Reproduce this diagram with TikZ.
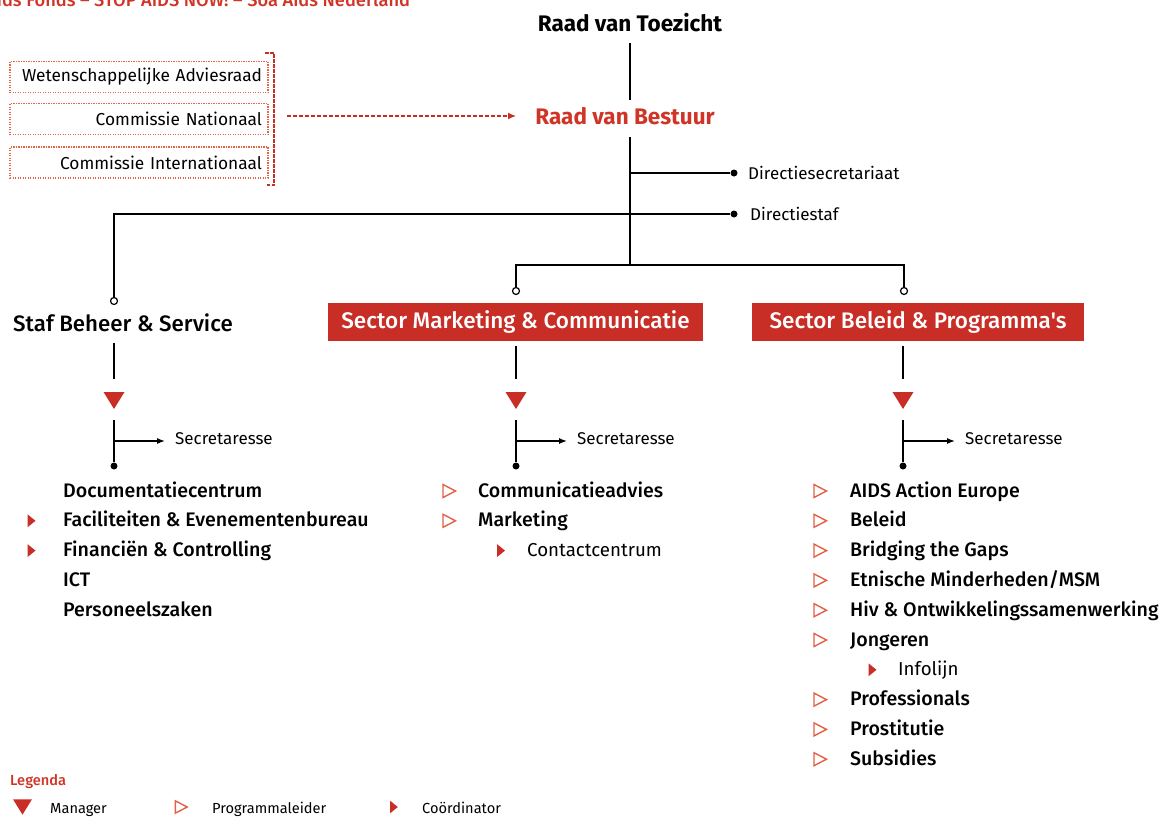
\documentclass[tikz,border=0pt]{standalone}
\usepackage{fontspec}
\setmainfont{Fira Sans}
\newfontfamily\med{Fira Sans Medium}
\usetikzlibrary{arrows.meta}
\definecolor{myred}{RGB}{200,45,38}
\definecolor{txtred}{RGB}{208,52,38}
\definecolor{lightred}{RGB}{226,96,70}
\definecolor{dotred}{RGB}{228,100,70}
\begin{document}
\begin{tikzpicture}[x=1pt,y=-1pt,
  conn/.style={line width=1.5pt, black},
  thin/.style={line width=1.3pt, black},
  item/.style={anchor=base west, inner sep=0, font=\med\fontsize{19.6}{22}\selectfont},
  subitem/.style={anchor=base west, inner sep=0, font=\fontsize{18.7}{22}\selectfont},
  small/.style={anchor=base west, inner sep=0, font=\fontsize{17}{20}\selectfont},
  legtext/.style={anchor=base west, inner sep=0, font=\fontsize{14.6}{16}\selectfont},
  title/.style={inner sep=0, font=\bfseries\fontsize{22.5}{26}\selectfont},
  sectorbox/.style={fill=myred, text=white, minimum height=38, inner sep=0, font=\med\fontsize{22.5}{26}\selectfont},
  opendot/.style={circle, draw, fill=white, line width=1.2pt, inner sep=0, minimum size=7},
  dot/.style={circle, fill=black, inner sep=0, minimum size=7},
  dotbox/.style={draw=dotred, line width=1.3pt, dash pattern=on 1.2pt off 1.3pt, minimum width=258, minimum height=31, text width=246, align=right, inner xsep=6, inner ysep=0, font=\fontsize{17.3}{19}\selectfont},
  pics/mgr/.style={code={\fill[myred] (-10.5,-8.5) -- (10.5,-8.5) -- (0,8.5) -- cycle;}},
  pics/prog/.style={code={\draw[lightred, line width=1.4pt, line join=miter] (-6,-6.5) -- (6.5,0) -- (-6,6.5) -- cycle;}},
  pics/coord/.style={code={\fill[myred] (-4,-6.5) -- (4,0) -- (-4,6.5) -- cycle;}}
]
\useasboundingbox (0,0) rectangle (1168,817);

% header
\node[anchor=base west, inner sep=0, text=txtred, font=\med\fontsize{18.3}{20}\selectfont] (hdr) at (-14,6) {Aids Fonds – STOP AIDS NOW! – Soa Aids Nederland};

% top
\node[title] (toezicht) at (630,23) {Raad van Toezicht};
\node[title, text=txtred] (bestuur) at (625,116) {Raad van Bestuur};
\coordinate (t0) at (630,43);
\coordinate (t1) at (630,100);
\draw[conn] (t0) -- (t1);

% advisory boxes
\node[dotbox] (wa) at (139,77) {Wetenschappelijke Adviesraad};
\node[dotbox] (cn) at (139,119) {Commissie Nationaal};
\node[dotbox] (ci) at (139,162.5) {Commissie Internationaal};
\draw[myred, line width=2pt, dash pattern=on 3.5pt off 1.5pt] (265,53) -- (274,53) -- (274,185) -- (265,185);
\coordinate (brk) at (287,116);
\draw[myred, line width=1.6pt, dash pattern=on 4pt off 2pt, -{Latex[length=8pt,width=7pt]}, shorten >=19pt] (brk) -- (bestuur.west);

% spine
\coordinate (s0) at (630,137);
\coordinate (s1) at (630,265);
\draw[conn] (s0) -- (s1);
\node[dot] (dsec) at (734,173) {};
\node[dot] (dstaf) at (734,214) {};
\node[small, anchor=west] (dsect) at (748,173) {Directiesecretariaat};
\node[small, anchor=west] (dstaft) at (750,214) {Directiestaf};
\draw[conn] (dsec -| s0) -- (dsec);

% sector heads
\node[opendot] (o1) at (114,301) {};
\node[opendot] (o2) at (516,291) {};
\node[opendot] (o3) at (904,291) {};
\draw[conn] (dstaf) -| (o1.north);
\draw[conn] (o2.north) |- (s1) -| (o3.north);

\node[anchor=base west, inner sep=0, font=\med\fontsize{22.3}{25}\selectfont] (staf) at (13,331) {Staf Beheer \& Service};
\node[sectorbox, minimum width=375] (smc) at (515.5,322) {Sector Marketing \& Communicatie};
\node[sectorbox, minimum width=332] (sbp) at (918,322) {Sector Beleid \& Programma's};

% stems
\foreach \n/\x/\top in {a/114/343, b/516/346, c/903/346}{
  \coordinate (\n0) at (\x,\top);
  \coordinate (\n1) at (\x,379);
  \draw[conn] (\n0) -- (\n1);
  \pic at (\x,400.5) {mgr};
  \coordinate (\n2) at (\x,420);
  \coordinate (\n3) at (\x,441);
  \node[dot] (\n4) at (\x,466) {};
  \draw[conn] (\n2) -- (\n4);
}
\node[small, anchor=west] (seca) at (175,439) {Secretaresse};
\node[small, anchor=west] (secb) at (577,439) {Secretaresse};
\node[small, anchor=west] (secc) at (965,439) {Secretaresse};
\draw[thin, -{Latex[length=8pt,width=6pt]}, shorten >=10pt] (a3) -- (a3 -| seca.west);
\draw[thin, -{Latex[length=8pt,width=6pt]}, shorten >=10pt] (b3) -- (b3 -| secb.west);
\draw[thin, -{Latex[length=8pt,width=6pt]}, shorten >=10pt] (c3) -- (c3 -| secc.west);

% left list
\node[item] (l1) at (63,497) {Documentatiecentrum};
\node[item] (l2) at (63,526.8) {Faciliteiten \& Evenementenbureau};
\node[item] (l3) at (63,556.6) {Financiën \& Controlling};
\node[item] (l4) at (63,586.4) {ICT};
\node[item] (l5) at (63,616.2) {Personeelszaken};
\pic at (31.5,520.8) {coord};
\pic at (31.5,550.6) {coord};

% middle list
\node[item] (m1) at (478,497) {Communicatieadvies};
\node[item] (m2) at (478,526.8) {Marketing};
\node[subitem] (m3) at (527,556.6) {Contactcentrum};
\pic at (449,491) {prog};
\pic at (449,520.8) {prog};
\pic at (501,550.6) {coord};

% right list
\foreach \i/\t in {1/{AIDS Action Europe},2/{Beleid},3/{Bridging the Gaps},4/{Etnische Minderheden/MSM},5/{Hiv \& Ontwikkelingssamenwerking},6/{Jongeren},8/{Professionals},9/{Prostitutie},10/{Subsidies}}{
  \node[item] (r\i) at (850,{497+29.8*(\i-1)}) {\t};
  \pic at (820,{491+29.8*(\i-1)}) {prog};
}
\node[subitem] (r7) at (898,675.8) {Infolijn};
\pic at (872.5,669.8) {coord};

% legend
\node[anchor=base west, inner sep=0, text=txtred, font=\med\fontsize{14.6}{16}\selectfont] (leg) at (10,785) {Legenda};
\pic[scale=0.9] at (22.5,807) {mgr};
\node[legtext] (lg1) at (50,813) {Manager};
\pic[scale=0.95] at (181,807) {prog};
\node[legtext] (lg2) at (212,813) {Programmaleider};
\pic[scale=0.95] at (394,807) {coord};
\node[legtext] (lg3) at (422,813) {Coördinator};
\end{tikzpicture}
\end{document}
